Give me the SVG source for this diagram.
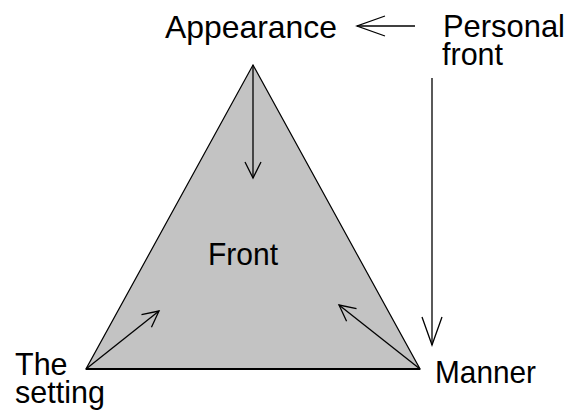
<svg xmlns="http://www.w3.org/2000/svg" width="571" height="412" viewBox="0 0 571 412">
<style>
  text { font-family: "Liberation Sans", Arial, sans-serif; font-size: 30.5px; fill: #000; }
  .conn { stroke: #000; stroke-width: 1.3; fill: none; }
  .head { stroke: #000; stroke-width: 1.3; fill: none; }
</style>
<defs>
  <marker id="big" markerUnits="userSpaceOnUse" viewBox="-32 -12 34 24" refX="0" refY="0" markerWidth="34" markerHeight="24" orient="auto" overflow="visible">
    <path class="head" d="M-28,-10 L0,0 L-28,10"/>
  </marker>
  <marker id="small" markerUnits="userSpaceOnUse" viewBox="-20 -10 22 20" refX="0" refY="0" markerWidth="22" markerHeight="20" orient="auto" overflow="visible">
    <path class="head" d="M-16,-8 L0,0 L-16,8"/>
  </marker>
</defs>
<rect width="571" height="412" fill="#fff"/>
<g id="front">
  <polygon points="253,65 86,369 420,369" fill="#c3c3c3" stroke="#000" stroke-width="1.2"/>
  <line x1="86" y1="369" x2="420" y2="369" stroke="#000" stroke-width="2.2"/>
  <text x="208" y="265" textLength="70" lengthAdjust="spacingAndGlyphs">Front</text>
</g>
<g id="appearance"><text x="165" y="38" textLength="172" lengthAdjust="spacingAndGlyphs">Appearance</text></g>
<g id="personal-front"><text x="443" y="37" textLength="122" lengthAdjust="spacingAndGlyphs">Personal</text><text x="442" y="65">front</text></g>
<g id="the-setting"><text x="15" y="375">The</text><text x="15" y="403">setting</text></g>
<g id="manner"><text x="435" y="383" textLength="101" lengthAdjust="spacingAndGlyphs">Manner</text></g>
<g id="connectors">
  <line class="conn" x1="415" y1="26" x2="357" y2="26" marker-end="url(#big)"/>
  <line class="conn" x1="432" y1="78" x2="432" y2="345" marker-end="url(#big)"/>
  <line class="conn" x1="253" y1="65" x2="253" y2="178" marker-end="url(#small)"/>
  <line class="conn" x1="86" y1="369" x2="159" y2="311" marker-end="url(#small)"/>
  <line class="conn" x1="420" y1="369" x2="339" y2="305" marker-end="url(#small)"/>
</g>
</svg>
